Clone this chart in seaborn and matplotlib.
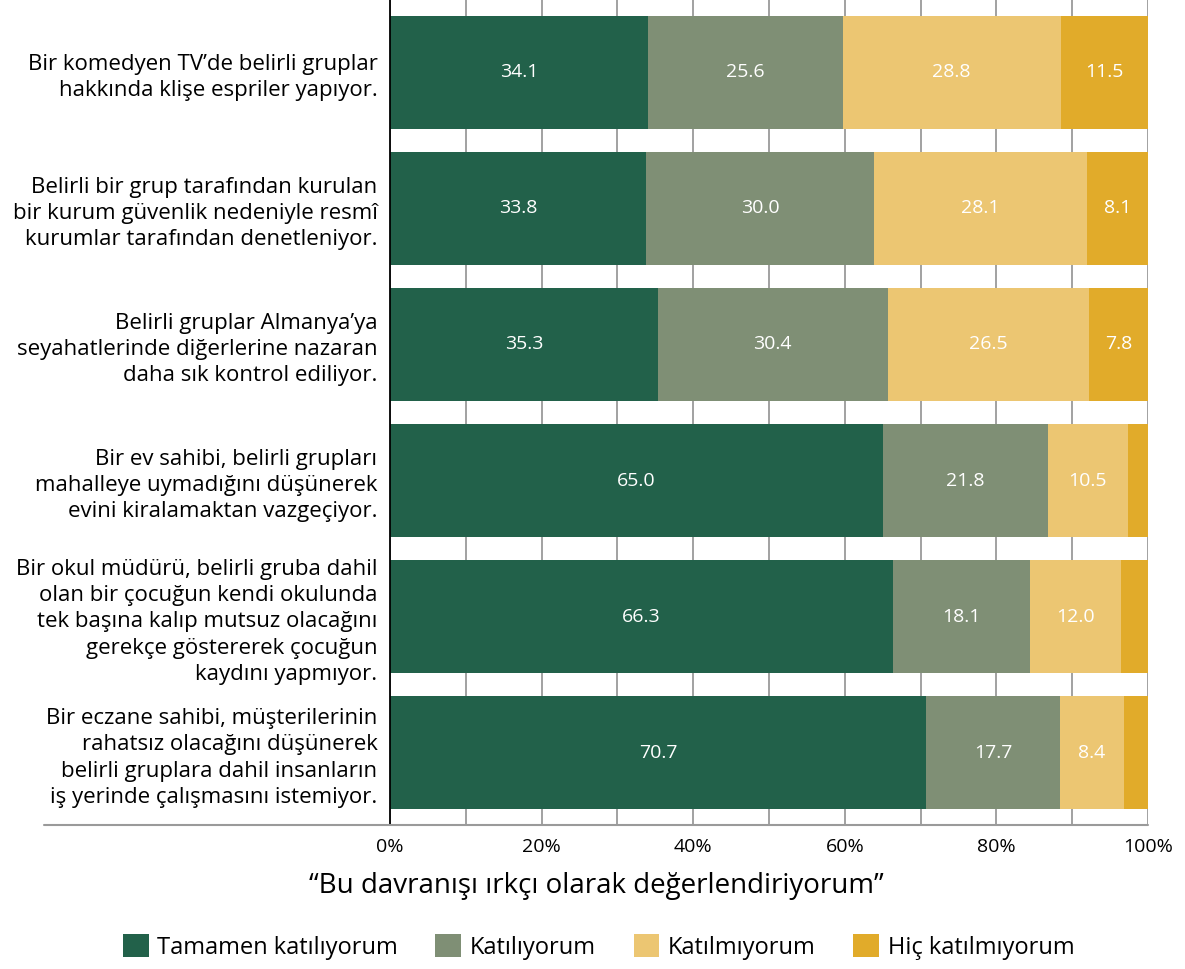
import numpy as np
import pandas as pd
import seaborn as sns
import matplotlib.pyplot as plt
from matplotlib.lines import Line2D
from matplotlib.patches import Patch

# data
statements = [
    "Bir komedyen TV’de belirli gruplar\nhakkında klişe espriler yapıyor.",
    "Belirli bir grup tarafından kurulan\nbir kurum güvenlik nedeniyle resmî\nkurumlar tarafından denetleniyor.",
    "Belirli gruplar Almanya’ya\nseyahatlerinde diğerlerine nazaran\ndaha sık kontrol ediliyor.",
    "Bir ev sahibi, belirli grupları\nmahalleye uymadığını düşünerek\nevini kiralamaktan vazgeçiyor.",
    "Bir okul müdürü, belirli gruba dahil\nolan bir çocuğun kendi okulunda\ntek başına kalıp mutsuz olacağını\ngerekçe göstererek çocuğun\nkaydını yapmıyor.",
    "Bir eczane sahibi, müşterilerinin\nrahatsız olacağını düşünerek\nbelirli gruplara dahil insanların\niş yerinde çalışmasını istemiyor.",
]
answers = ["Tamamen katılıyorum", "Katılıyorum", "Katılmıyorum", "Hiç katılmıyorum"]
tamamen = [34.1, 33.8, 35.3, 65.0, 66.3, 70.7]
katiliyorum = [25.6, 30.0, 30.4, 21.8, 18.1, 17.7]
katilmiyorum = [28.8, 28.1, 26.5, 10.5, 12.0, 8.4]
hic = [11.5, 8.1, 7.8, 2.7, 3.6, 3.2]
x_ticks = [0, 20, 40, 60, 80, 100]
x_title = "“Bu davranışı ırkçı olarak değerlendiriyorum”"

colors = ["#22614a", "#7f8f75", "#ecc672", "#e1ab2a"]

df = pd.DataFrame({"statement": statements, answers[0]: tamamen, answers[1]: katiliyorum,
                   answers[2]: katilmiyorum, answers[3]: hic})
cum = df[answers].cumsum(axis=1)

sns.set_style("white")
plt.rcParams["font.family"] = ["Open Sans", "DejaVu Sans"]
plt.rcParams["text.color"] = "black"
plt.rcParams["xtick.color"] = "black"
plt.rcParams["ytick.color"] = "black"

fig = plt.figure(figsize=(11.85, 9.69), dpi=100)
ax = fig.add_axes([0.3291, 0.1486, 0.6397, 0.8514])

# stacked bars: draw cumulative totals from the outside in
for ans, col in reversed(list(zip(answers, colors))):
    sns.barplot(x=cum[ans], y=df["statement"], color=col, width=0.83,
                orient="h", ax=ax, zorder=3, saturation=1, edgecolor="none")

# value labels in the middle of each segment
for i in range(len(df)):
    for ans in answers:
        v = df.loc[i, ans]
        if v < 5:
            continue
        mid = cum.loc[i, ans] - v / 2
        ax.text(mid, i, f"{v:.1f}", ha="center", va="center", color="white",
                fontsize=14, zorder=4)

ax.set_xlim(0, 100)
ax.set_ylim(5.53, -0.53)
ax.set_xticks(x_ticks)
ax.set_xticklabels([f"{t}%" for t in x_ticks], fontsize=14)
ax.set_xticks(np.arange(0, 101, 10), minor=True)
ax.grid(axis="x", which="both", color="#9a9a9a", linewidth=1.3, zorder=0)
ax.set_axisbelow(True)
ax.tick_params(axis="x", which="both", length=0, pad=9)
ax.tick_params(axis="y", length=0, pad=9, labelsize=16)
for lab in ax.get_yticklabels():
    lab.set_linespacing(1.33)
ax.set_xlabel("")
ax.set_ylabel("")
for s in ["top", "right", "bottom"]:
    ax.spines[s].set_visible(False)
ax.spines["left"].set_color("black")
ax.spines["left"].set_linewidth(1.3)
ax.spines["left"].set_zorder(5)

# bottom rule, reaching under the labels
fig.add_artist(Line2D([44 / 1185, 1148 / 1185], [0.1486, 0.1486], color="#9a9a9a",
                      linewidth=1.5, transform=fig.transFigure))

fig.text(0.503, 1 - 886 / 969, x_title, ha="center", va="center", fontsize=20)

handles = [Patch(facecolor=c, edgecolor="none") for c in colors]
fig.legend(handles, answers, loc="center", bbox_to_anchor=(0.505, 1 - 947 / 969),
           ncol=4, frameon=False, fontsize=17, handlelength=1.1, handleheight=1.1,
           columnspacing=1.6, handletextpad=0.35)

fig.savefig("out.png", dpi=100)
